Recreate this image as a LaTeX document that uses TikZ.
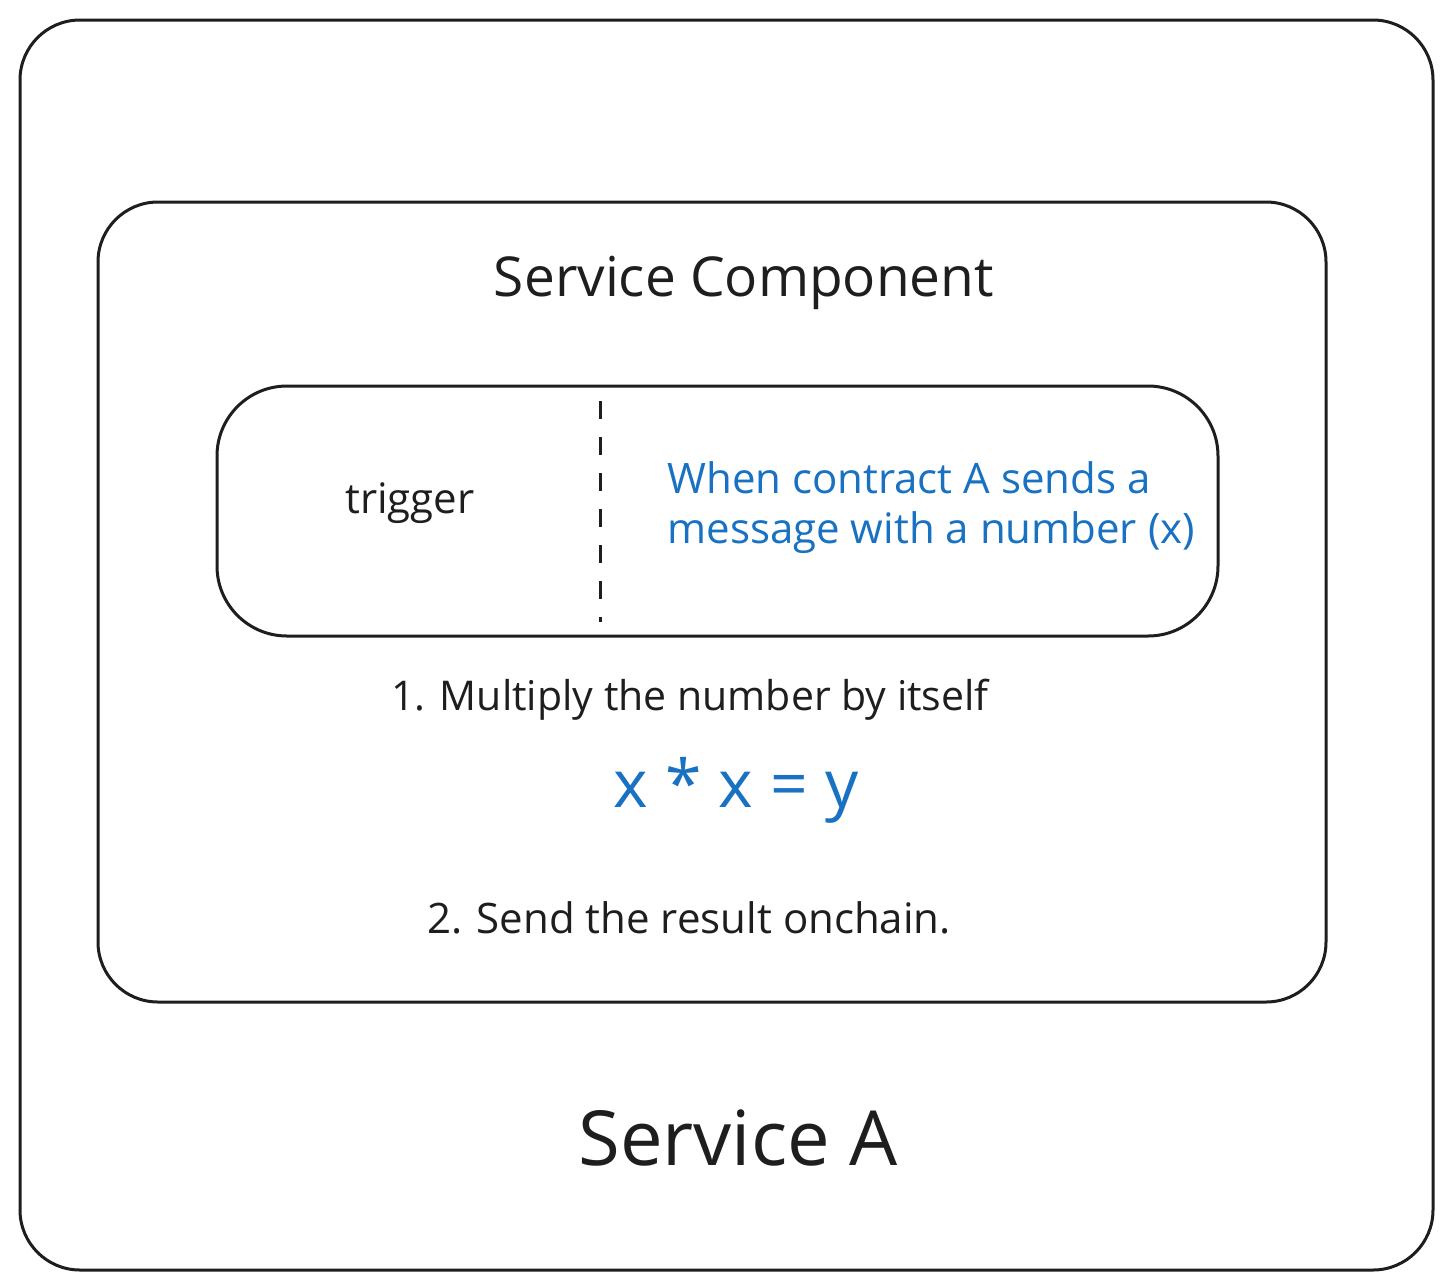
\documentclass[tikz,border=0pt]{standalone}
\usepackage{fontspec}
\setmainfont{Open Sans}
\definecolor{exblue}{HTML}{1971C2}
\definecolor{exink}{HTML}{1E1E1E}
\begin{document}
\begin{tikzpicture}[x=0.5pt,y=-0.5pt,
  box/.style={draw=exink,line width=1.5pt},
  lbl/.style={text=exink,inner sep=0pt,anchor=center},
  bluelbl/.style={text=exblue,inner sep=0pt}]
\useasboundingbox (0,0) rectangle (1453,1287);
\fill[white] (0,0) rectangle (1453,1287);
% boxes
\draw[box,rounded corners=30pt] (20,20) rectangle (1433,1270);
\draw[box,rounded corners=30pt] (98,202) rectangle (1326,1002);
\draw[box,rounded corners=35pt] (217,386) rectangle (1218,636);
\coordinate (dtop) at (600,401);
\coordinate (dbot) at (600,622);
\draw[exink,line width=1.5pt,dash pattern=on 9pt off 9pt] (dtop) -- (dbot);
% texts
\node[lbl,font=\fontsize{27.5}{32}\selectfont] (sc) at (744,283) {Service Component};
\node[lbl,font=\fontsize{21}{25}\selectfont] (trig) at (410,503) {trigger};
\node[bluelbl,anchor=west,align=left,font=\fontsize{21}{25}\selectfont] (when) at (667,508) {When contract A sends a\\message with a number (x)};
\node[lbl,font=\fontsize{20.5}{24}\selectfont] (s1) at (690,700) {1. Multiply the number by itself};
\node[bluelbl,font=\fontsize{33}{38}\selectfont] (eq) at (736,790) {x * x = y};
\node[lbl,font=\fontsize{21}{25}\selectfont] (s2) at (689,918) {2. Send the result onchain.};
\node[lbl,font=\fontsize{38}{44}\selectfont] (sa) at (738,1138) {Service A};
\end{tikzpicture}
\end{document}
